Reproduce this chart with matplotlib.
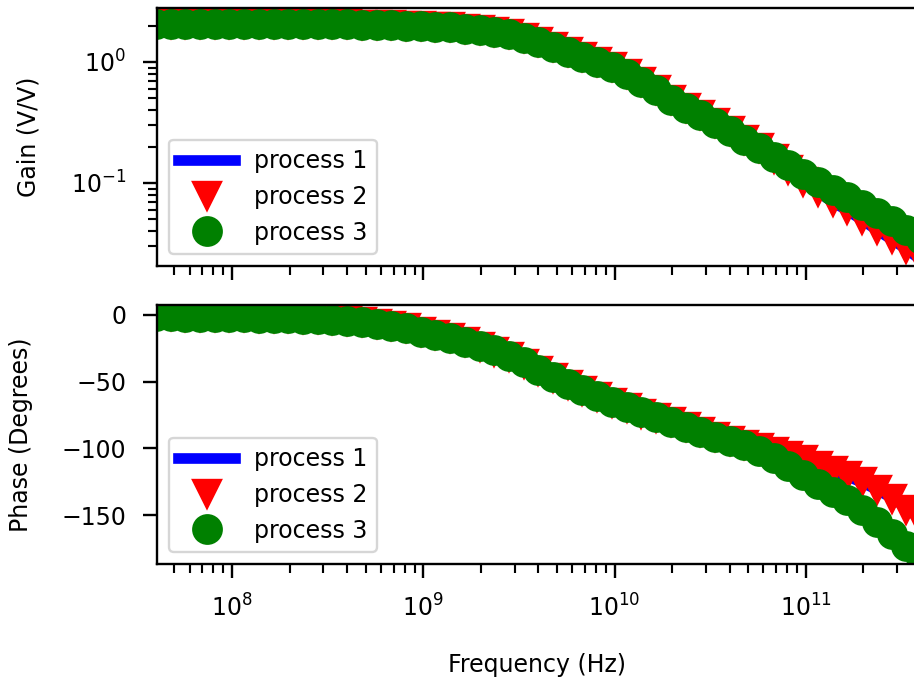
import matplotlib
matplotlib.use('Agg')
from matplotlib import pyplot as plt

# frequency points (Hz)
freq_hz = [4.00e7, 4.78e7, 5.70e7, 6.80e7, 8.12e7, 9.70e7, 1.158e8, 1.382e8, 1.650e8,
           1.970e8, 2.352e8, 2.807e8, 3.351e8,
           4.00e8, 4.78e8, 5.70e8, 6.80e8, 8.12e8, 9.70e8, 1.158e9, 1.382e9, 1.650e9,
           1.970e9, 2.352e9, 2.807e9, 3.351e9,
           4.00e9, 4.78e9, 5.70e9, 6.80e9, 8.12e9, 9.70e9, 1.158e10, 1.382e10, 1.650e10,
           1.970e10, 2.352e10, 2.807e10, 3.351e10,
           4.00e10, 4.78e10, 5.70e10, 6.80e10, 8.12e10, 9.70e10, 1.158e11, 1.382e11, 1.650e11,
           1.970e11, 2.352e11, 2.807e11, 3.351e11,
           4.00e11]

# gain (V/V)
gain_p1 = [2.06, 2.06, 2.06, 2.06, 2.06, 2.06, 2.06, 2.06, 2.06, 2.06, 2.06, 2.05, 2.05,
           2.05, 2.04, 2.02, 2.02, 2.00, 1.97, 1.95, 1.93, 1.89, 1.84, 1.77, 1.70, 1.58,
           1.46, 1.33, 1.21, 1.10, 1.00, 0.909, 0.796, 0.683, 0.587, 0.485, 0.417, 0.365,
           0.313, 0.269, 0.227, 0.193, 0.158, 0.127, 0.102, 0.0843, 0.0696, 0.0593, 0.0495,
           0.0409, 0.0342, 0.0285, 0.0231]
gain_p2 = [2.06, 2.06, 2.06, 2.06, 2.06, 2.06, 2.06, 2.06, 2.06, 2.06, 2.06, 2.05, 2.05,
           2.05, 2.04, 2.02, 2.02, 2.00, 1.97, 1.95, 1.93, 1.89, 1.84, 1.77, 1.70, 1.58,
           1.46, 1.33, 1.21, 1.10, 1.00, 0.909, 0.796, 0.683, 0.587, 0.485, 0.417, 0.365,
           0.313, 0.269, 0.227, 0.193, 0.158, 0.127, 0.102, 0.0843, 0.0696, 0.0593, 0.0495,
           0.0409, 0.0342, 0.0285, 0.0231]
gain_p3 = [2.06, 2.06, 2.06, 2.06, 2.06, 2.06, 2.06, 2.06, 2.06, 2.06, 2.06, 2.05, 2.05,
           2.05, 2.04, 2.02, 2.02, 2.00, 1.97, 1.95, 1.93, 1.89, 1.84, 1.77, 1.70, 1.58,
           1.46, 1.33, 1.21, 1.10, 1.00, 0.909, 0.796, 0.683, 0.587, 0.485, 0.417, 0.365,
           0.313, 0.269, 0.227, 0.193, 0.164, 0.140, 0.119, 0.102, 0.0875, 0.0759, 0.0658,
           0.0565, 0.0481, 0.0409, 0.0345]

# phase (degrees)
phase_p1 = [-1.0, -1.1, -1.2, -1.3, -1.5, -1.6, -1.8, -2.0, -2.2, -2.5, -2.8, -3.2, -3.8,
            -4.5, -5.3, -6.5, -8.0, -10.0, -12.5, -15.0, -17.0, -20.5, -24.0, -27.5, -31.5,
            -36.5, -42.0, -47.5, -52.5, -57.0, -61.5, -66.0, -70.0, -74.0, -77.0, -80.0,
            -84.0, -88.0, -91.5, -94.5, -97.5, -99.5, -102.5, -105.5, -109.0, -113.0, -117.0,
            -121.0, -125.5, -131.0, -137.0, -144.5, -154.0]
phase_p2 = [-1.0, -1.1, -1.2, -1.3, -1.5, -1.6, -1.8, -2.0, -2.2, -2.5, -2.8, -3.2, -3.8,
            -4.5, -5.3, -6.5, -8.0, -10.0, -12.5, -15.0, -17.0, -20.5, -24.0, -27.5, -31.5,
            -36.5, -42.0, -47.5, -52.5, -57.0, -61.5, -66.0, -70.0, -74.0, -77.0, -80.0,
            -84.0, -88.0, -91.5, -94.5, -97.5, -99.5, -102.5, -105.5, -109.0, -113.0, -117.0,
            -121.0, -125.5, -131.5, -138.0, -146.0, -156.0]
phase_p3 = [-1.0, -1.1, -1.2, -1.3, -1.5, -1.6, -1.8, -2.0, -2.2, -2.5, -2.8, -3.2, -3.8,
            -4.5, -5.3, -6.5, -8.0, -10.0, -12.5, -15.0, -17.0, -20.0, -23.0, -26.5, -30.5,
            -35.5, -41.0, -46.5, -51.5, -56.0, -60.5, -65.0, -69.0, -73.0, -76.5, -80.0,
            -84.0, -88.0, -91.5, -94.5, -97.5, -102.0, -107.0, -113.0, -120.0, -126.5, -132.5,
            -139.0, -146.5, -155.0, -164.0, -173.0, -182.0]

labels = ['process 1', 'process 2', 'process 3']

DPI = 170.5
fig = plt.figure(figsize=(914 / DPI, 682 / DPI), dpi=DPI)
ax_gain = fig.add_axes([0.1718, 0.6100, 0.8304, 0.3783])
ax_phase = fig.add_axes([0.1718, 0.1730, 0.8304, 0.3798], sharex=ax_gain)

ms = 12


def draw(ax, p1, p2, p3):
    ax.plot(freq_hz, p1, color='blue', linewidth=4.5, label=labels[0])
    ax.plot(freq_hz, p2, 'v', color='red', markersize=ms, label=labels[1])
    ax.plot(freq_hz, p3, 'o', color='green', markersize=ms, label=labels[2])
    ax.legend(loc='lower left', handlelength=2.4)
    for s in ax.spines.values():
        s.set_linewidth(1.0)
    ax.tick_params(which='major', length=6, width=1.0, pad=7)
    ax.tick_params(which='minor', length=3.6, width=0.9)


draw(ax_gain, gain_p1, gain_p2, gain_p3)
ax_gain.set_xscale('log')
ax_gain.set_yscale('log')
ax_gain.set_ylim(0.0206, 2.795)
ax_gain.set_ylabel('Gain (V/V)')
ax_gain.yaxis.set_label_coords(-0.153, 0.5)
ax_gain.tick_params(labelbottom=False)

draw(ax_phase, phase_p1, phase_p2, phase_p3)
ax_phase.set_ylim(-186.75, 7.5)
ax_phase.set_yticks([0, -50, -100, -150])
ax_phase.set_ylabel('Phase (Degrees)')
ax_phase.yaxis.set_label_coords(-0.163, 0.5)
ax_phase.set_xlabel('Frequency (Hz)')
ax_phase.xaxis.set_label_coords(0.5, -0.345)

ax_phase.set_xlim(4.055e7, 3.77e11)

fig.savefig('out.png', dpi=DPI)
